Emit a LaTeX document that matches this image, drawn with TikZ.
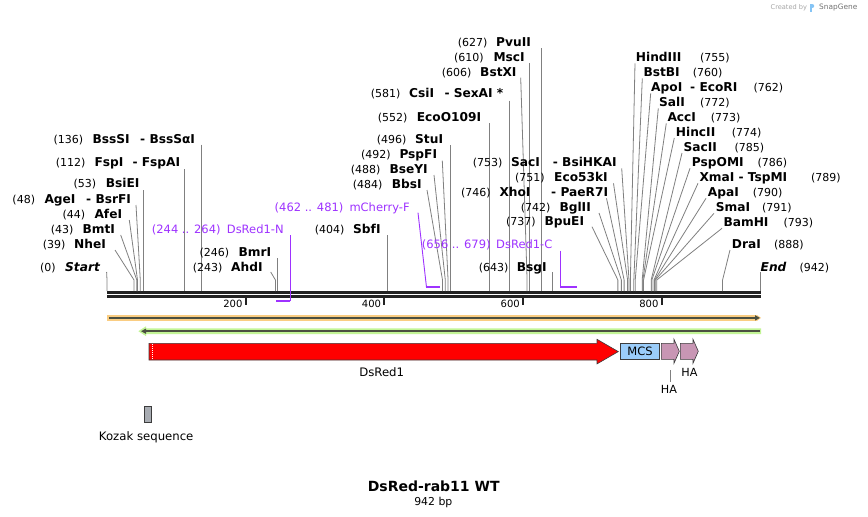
\documentclass[tikz,border=0pt]{standalone}
\usepackage{fontspec}
\setmainfont{DejaVu Sans}
\usetikzlibrary{arrows.meta}
\definecolor{cutc}{RGB}{128,128,128}
\definecolor{prim}{RGB}{158,50,255}
\definecolor{bbone}{RGB}{34,34,34}
\definecolor{orgf}{RGB}{250,205,130}
\definecolor{grnf}{RGB}{195,245,150}
\definecolor{darkl}{RGB}{75,80,65}
\definecolor{mcsf}{RGB}{155,205,250}
\definecolor{haf}{RGB}{200,150,180}
\definecolor{kozf}{RGB}{168,172,178}
\definecolor{edgec}{RGB}{60,60,60}
\definecolor{sgblue}{RGB}{80,170,240}
\tikzset{
  enznum/.style={font=\fontsize{11}{13}\selectfont, anchor=base west, inner sep=0pt},
  enzname/.style={font=\fontsize{12.2}{14}\selectfont\bfseries, anchor=base west, inner sep=0pt},
  primlbl/.style={font=\fontsize{11.5}{13}\selectfont, text=prim, anchor=base west, inner sep=0pt},
  featlbl/.style={font=\fontsize{11.7}{13}\selectfont, anchor=base, inner sep=0pt},
  ticklbl/.style={font=\fontsize{10}{12}\selectfont, anchor=base east, inner sep=0pt},
  cutl/.style={draw=cutc, line width=0.8pt},
  primlead/.style={draw=prim, line width=0.9pt},
  primbind/.style={draw=prim, line width=2pt},
  tickmark/.style={draw=bbone, line width=2pt},
  featedge/.style={draw=edgec, line width=0.6pt},
}
\newcommand\enzcut[4]{%
  \coordinate (#1t) at (#2,#3);
  \coordinate (#1b) at ({107+#4*0.6932},280);
  \coordinate (#1s) at ({107+#4*0.6932},291);
  \draw[cutl] (#1t) -- (#1b) -- (#1s);}
\newcommand\enzvcut[3]{%
  \coordinate (#1t) at ({107+#3*0.6932},#2);
  \coordinate (#1s) at ({107+#3*0.6932},291);
  \draw[cutl] (#1t) -- (#1s);}
\newcommand\enzlab[6]{%
  \node[enznum] (#1n) at (#3,#2) {#4};
  \node[enzname] (#1m) at (#5,#2) {#6};}
\newcommand\enzlabx[3]{%
  \node[enzname] (#1x) at (#3,#2) {- #1X};}
\begin{document}
\begin{tikzpicture}[x=1pt,y=-1pt]
\useasboundingbox (0,0) rectangle (868,517);
\fill[white] (0,0) rectangle (868,517);

% ---- SnapGene credit
\node[font=\fontsize{6.6}{8}\selectfont, text=black!35, anchor=base west, inner sep=0pt] (cby) at (770.5,9.8) {Created by};
\fill[sgblue!70] (810,3.5) rectangle (811.8,12);
\fill[sgblue!70] (811.8,3.5) .. controls (815,3.5) and (815,8) .. (811.8,8) -- cycle;
\node[font=\fontsize{7.4}{9}\selectfont, text=black!55, anchor=base west, inner sep=0pt] (sgn) at (819,9.8) {SnapGene};

% ---- backbone
\coordinate (bbL1) at (107,292.2); \coordinate (bbR1) at (761,292.2);
\coordinate (bbL2) at (107,296.4); \coordinate (bbR2) at (761,296.4);
\draw[bbone, line width=2.6pt] (bbL1) -- (bbR1);
\draw[bbone, line width=2.6pt] (bbL2) -- (bbR2);
\foreach \t in {200,400,600,800}{
  \coordinate (tk\t) at ({107+\t*0.6932},297.5);
  \draw[tickmark] (tk\t) -- ++(0,7);
  \node[ticklbl] (tl\t) at ({107+\t*0.6932-3},307.3) {\t};
}

% ---- enzyme sites, left-labelled
\enzlab{st}{271.1}{40}{(0)}{65}{\itshape Start} \enzcut{st}{106.6}{272}{0}
\enzlab{nhe}{248.4}{42.7}{(39)}{74}{NheI} \enzcut{nhe}{115}{250}{39}
\enzlab{bmt}{233.4}{50.7}{(43)}{82.3}{BmtI} \enzcut{bmt}{120.7}{235}{43}
\enzlab{afe}{218.4}{62.3}{(44)}{94.3}{AfeI} \enzcut{afe}{129.3}{220}{44}
\enzlab{age}{203.4}{12.3}{(48)}{44.3}{AgeI} \node[enzname] (agex) at (86,203.4) {- BsrFI}; \enzcut{age}{136}{205}{48}
\enzlab{bsie}{187.4}{73.3}{(53)}{105.7}{BsiEI} \enzvcut{bsie}{190}{53}
\enzlab{fsp}{166.7}{55.7}{(112)}{94.3}{FspI} \node[enzname] (fspx) at (132.3,166.7) {- FspAI}; \enzvcut{fsp}{169}{112}
\enzlab{bss}{143.4}{53.3}{(136)}{92.3}{BssSI} \node[enzname] (bssx) at (140,143.4) {- BssSαI}; \enzvcut{bss}{144.5}{136}
\enzlab{ahd}{271.4}{192.7}{(243)}{231}{AhdI} \enzcut{ahd}{270.7}{272}{243}
\enzlab{bmr}{256.4}{199.3}{(246)}{238.3}{BmrI} \enzvcut{bmr}{258}{246}
\enzlab{sbf}{233.7}{314.7}{(404)}{353}{SbfI} \enzvcut{sbf}{235}{404}
\enzlab{bbs}{188.4}{352.7}{(484)}{391.7}{BbsI} \enzcut{bbs}{427}{190}{484}
\enzlab{bsey}{173.1}{350.7}{(488)}{389.3}{BseYI} \enzcut{bsey}{434}{175}{488}
\enzlab{pspf}{158.4}{361}{(492)}{399.3}{PspFI} \enzcut{pspf}{442.3}{160.7}{492}
\enzlab{stu}{143.4}{376.7}{(496)}{415}{StuI} \enzvcut{stu}{145}{496}
\enzlab{eco}{121.7}{377.7}{(552)}{416.7}{EcoO109I} \enzvcut{eco}{123.3}{552}
\enzlab{csi}{97.7}{370.7}{(581)}{409}{CsiI} \node[enzname] (csix) at (444.3,97.7) {- SexAI *}; \enzvcut{csi}{100.7}{581}
\enzlab{bstx}{76.1}{441.7}{(606)}{480}{BstXI} \enzcut{bstx}{520.7}{77.7}{606}
\enzlab{msc}{61.1}{454}{(610)}{493.3}{MscI} \enzvcut{msc}{63.3}{610}
\enzlab{pvu}{46.7}{457.7}{(627)}{496}{PvuII} \enzvcut{pvu}{48}{627}
\enzlab{bsg}{271.4}{478.7}{(643)}{516.7}{BsgI} \enzvcut{bsg}{272}{643}
\enzlab{bpue}{225.4}{506}{(737)}{544.3}{BpuEI} \enzcut{bpue}{592}{226.7}{737}
\enzlab{bgl}{211.1}{520.7}{(742)}{559.3}{BglII} \enzcut{bgl}{599}{213}{742}
\enzlab{xho}{196.1}{461}{(746)}{499.3}{XhoI} \node[enzname] (xhox) at (551,196.1) {- PaeR7I}; \enzcut{xho}{606.5}{198.3}{746}
\enzlab{ecok}{181.1}{515}{(751)}{554}{Eco53kI} \enzcut{ecok}{613.5}{183.3}{751}
\enzlab{sac}{166.1}{472.7}{(753)}{511}{SacI} \node[enzname] (sacx) at (552.7,166.1) {- BsiHKAI}; \enzcut{sac}{621.7}{168.3}{753}

% ---- enzyme sites, right-labelled
\enzlab{hind}{61.1}{700}{(755)}{635.7}{HindIII} \enzcut{hind}{635}{63.3}{755}
\enzlab{bstb}{76.7}{692.7}{(760)}{643.3}{BstBI} \enzcut{bstb}{642.3}{78.3}{760}
\enzlab{apo}{91.7}{753.3}{(762)}{651}{ApoI} \node[enzname] (apox) at (690,91.7) {- EcoRI}; \enzcut{apo}{650.7}{93.3}{762}
\enzlab{sal}{106.7}{700}{(772)}{659}{SalI} \enzcut{sal}{658.3}{108.3}{772}
\enzlab{acc}{121.7}{710.7}{(773)}{667.3}{AccI} \enzcut{acc}{666.3}{123.3}{773}
\enzlab{hinc}{136.1}{731.7}{(774)}{675.7}{HincII} \enzcut{hinc}{674.3}{138}{774}
\enzlab{sacb}{151.1}{734.3}{(785)}{683.3}{SacII} \enzcut{sacb}{682}{153}{785}
\enzlab{pspo}{166.7}{757.3}{(786)}{691.7}{PspOMI} \enzcut{pspo}{690}{168.3}{786}
\enzlab{xma}{181.1}{811}{(789)}{699.3}{XmaI} \node[enzname] (xmax) at (738.3,181.1) {- TspMI}; \enzcut{xma}{698}{183.3}{789}
\enzlab{apa}{196.7}{752.7}{(790)}{707.7}{ApaI} \enzcut{apa}{706}{198.3}{790}
\enzlab{sma}{211.1}{762}{(791)}{715.7}{SmaI} \enzcut{sma}{714}{213.3}{791}
\enzlab{bam}{226.1}{783.3}{(793)}{723.3}{BamHI} \enzcut{bam}{722}{228.3}{793}
\enzlab{dra}{248.4}{774}{(888)}{731.7}{DraI} \enzcut{dra}{730}{250}{888}
\enzlab{endl}{271.1}{799.3}{(942)}{760.5}{\itshape End} \enzvcut{endl}{272}{942}

% ---- primers
\node[primlbl] (pNn) at (151.7,233.2) {(244 .. 264)};
\node[primlbl] (pNm) at (226.7,233.2) {DsRed1-N};
\coordinate (pNt) at (290,235); \coordinate (pNc) at (290,301); \coordinate (pNe) at (276,301);
\draw[primlead] (pNt) -- (pNc);
\draw[primbind] ([xshift=0.45pt]pNc) -- (pNe);

\node[primlbl] (pFn) at (274.5,211.2) {(462 .. 481)};
\node[primlbl] (pFm) at (349.3,211.2) {mCherry-F};
\coordinate (pFt) at (418,212.7); \coordinate (pFc) at (426.5,287.3); \coordinate (pFe) at (439.5,287.3);
\draw[primlead] (pFt) -- (pFc);
\draw[primbind] ([xshift=-0.45pt]pFc) -- (pFe);

\node[primlbl] (pCn) at (421.7,248.2) {(656 .. 679)};
\node[primlbl] (pCm) at (496,248.2) {DsRed1-C};
\coordinate (pCt) at (560.8,250.5); \coordinate (pCc) at (560.8,287.3); \coordinate (pCe) at (576.5,287.3);
\draw[primlead] (pCt) -- (pCc);
\draw[primbind] ([xshift=-0.45pt]pCc) -- (pCe);

% ---- feature bars
\fill[orgf] (107,315) -- (757,315) -- (761,317.9) -- (757,320.8) -- (107,320.8) -- cycle;
\coordinate (orL) at (109,317.9); \coordinate (orR) at (760,317.9);
\draw[darkl, line width=1.8pt, -{Triangle[length=5pt,width=5pt]}] (orL) -- (orR);

\fill[grnf] (761,328.3) -- (146,328.3) -- (146,326.3) -- (138.3,331.2) -- (146,336.1) -- (146,334.1) -- (761,334.1) -- cycle;
\coordinate (grR) at (760,331.2); \coordinate (grL) at (141,331.2);
\draw[darkl, line width=1.8pt, -{Triangle[length=5pt,width=5pt]}] (grR) -- (grL);

% DsRed1
\filldraw[fill=red, featedge] (149,343.3) -- (597,343.3) -- (597,339.3) -- (618.3,351.6) -- (597,363.9) -- (597,360) -- (149,360) -- cycle;
\draw[white, line width=1.6pt, dash pattern=on 1pt off 1pt] (152.3,344) -- (152.3,359.4);
\node[featlbl] (dsr) at (381.7,376.6) {DsRed1};

% MCS
\node[draw=edgec, line width=0.6pt, fill=mcsf, minimum width=38.6pt, minimum height=16pt, inner sep=0pt, font=\fontsize{11.5}{13}\selectfont] (mcs) at (640,351.3) {MCS};

% HA tags
\filldraw[fill=haf, featedge] (661.3,343.3) -- (674,343.3) -- (674,339.3) -- (679.3,351.3) -- (674,363.3) -- (674,359.3) -- (661.3,359.3) -- cycle;
\filldraw[fill=haf, featedge] (680.3,343.3) -- (693,343.3) -- (693,339.3) -- (698.3,351.3) -- (693,363.3) -- (693,359.3) -- (680.3,359.3) -- cycle;
\coordinate (ha1t) at (670.7,370); \coordinate (ha1b) at (670.7,381.7);
\draw[cutl] (ha1t) -- (ha1b);
\node[featlbl, font=\fontsize{11.2}{13}\selectfont] (ha1) at (669,393.3) {HA};
\node[featlbl, font=\fontsize{11.2}{13}\selectfont] (ha2) at (689.5,376.7) {HA};

% Kozak
\filldraw[fill=kozf, featedge] (144.3,406.7) rectangle (151.7,422.7);
\node[featlbl] (koz) at (146.2,440.3) {Kozak sequence};

% ---- title
\node[font=\fontsize{14}{16}\selectfont\bfseries, anchor=base, inner sep=0pt] (ttl) at (433.7,491.1) {DsRed-rab11 WT};
\node[font=\fontsize{10.9}{13}\selectfont, anchor=base, inner sep=0pt] (sub) at (433.3,505.6) {942 bp};
\end{tikzpicture}
\end{document}
